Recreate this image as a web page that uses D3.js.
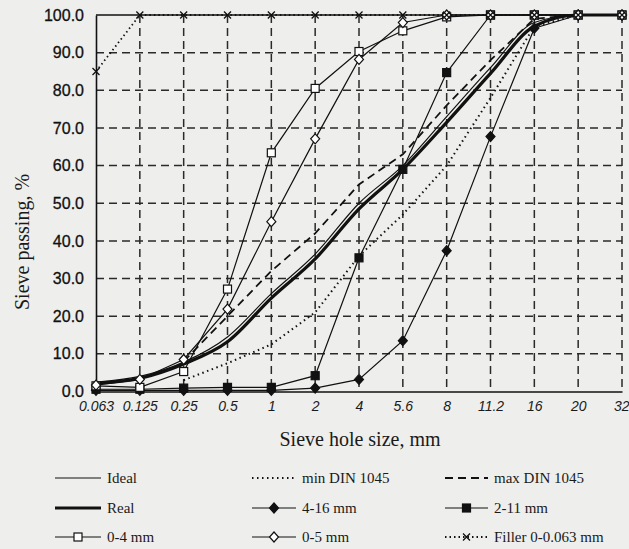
<!DOCTYPE html>
<meta charset="utf-8">
<head>
<style>
  body { margin: 0; background: #eeeeec; }
  svg { display: block; }
  .ytick text { font: 16px "Liberation Sans", Arial, sans-serif; fill: #111; stroke: #111; stroke-width: 0.3; }
  .xtick text { font: italic 14px "Liberation Sans", Arial, sans-serif; fill: #1a1a1a; }
  .title { font: 20px "Liberation Serif", "Times New Roman", serif; fill: #1a1a1a; }
  .legend text { font: 15px "Liberation Serif", "Times New Roman", serif; fill: #1a1a1a; }
  .grid line { stroke: #2a2a2a; stroke-width: 1.5; stroke-dasharray: 8,5; }
</style>
</head>
<body>
<script src="https://d3js.org/d3.v7.min.js"></script>
<script>

// sieve sizes (mm), evenly spaced on the chart
var sizes = ["0.063", "0.125", "0.25", "0.5", "1", "2", "4", "5.6", "8", "11.2", "16", "20", "32"];
var yTicks = [0, 10, 20, 30, 40, 50, 60, 70, 80, 90, 100];

// % passing per sieve
var ideal   = [2.5, 4.0, 7.8, 14.5, 26.0, 36.5, 50.0, 60.0, 73.0, 86.0, 98.0, 100, 100];
var real    = [2.2, 3.5, 7.3, 13.2, 24.8, 35.2, 48.5, 59.0, 71.5, 84.5, 97.0, 100, 100];
var minDin  = [null, null, 3.0, 7.5, 12.5, 21.0, 36.0, 47.0, 60.0, 78.0, 97.0, 100, 100];
var maxDin  = [null, null, 8.0, 20.0, 32.0, 42.0, 55.0, 63.0, 76.0, 88.0, 99.0, 100, 100];
var s4_16   = [0.3, 0.3, 0.3, 0.3, 0.3, 0.9, 3.2, 13.5, 37.4, 67.7, 96.5, 100, 100];
var s2_11   = [0.6, 0.6, 0.9, 1.1, 1.1, 4.2, 35.5, 59.0, 84.7, 100, 100, 100, 100];
var s0_4    = [1.5, 1.1, 5.3, 27.2, 63.4, 80.5, 90.3, 95.8, 99.5, 100, 100, 100, 100];
var s0_5    = [1.7, 3.2, 8.5, 21.9, 45.1, 67.1, 88.2, 98.0, 100, 100, 100, 100, 100];
var filler  = [85.0, 100, 100, 100, 100, 100, 100, 100, 100, 100, 100, 100, 100];

var series = [
    {name: "Ideal", values: ideal, width: 1.2, dash: null, marker: null, smooth: true},
    {name: "min DIN 1045", values: minDin, width: 2, dash: "1.5,3.5", marker: null},
    {name: "max DIN 1045", values: maxDin, width: 1.8, dash: "8,5", marker: null},
    {name: "Real", values: real, width: 3.2, dash: null, marker: null, smooth: true},
    {name: "4-16 mm", values: s4_16, width: 1.2, dash: null, marker: "fdiamond"},
    {name: "2-11 mm", values: s2_11, width: 1.2, dash: null, marker: "fsquare"},
    {name: "0-4 mm", values: s0_4, width: 1.2, dash: null, marker: "osquare"},
    {name: "0-5 mm", values: s0_5, width: 1.2, dash: null, marker: "odiamond"},
    {name: "Filler 0-0.063 mm", values: filler, width: 1.8, dash: "1.5,3", marker: "cross"}
];

var W = 629, H = 549;
var pLeft = 96, pRight = 622, pTop = 15, pBottom = 391.5;

var svg = d3.select("body").append("svg")
    .attr("width", W)
    .attr("height", H);

var x = d3.scalePoint().domain(sizes).range([pLeft, pRight]);
var y = d3.scaleLinear().domain([0, 100]).range([pBottom, pTop]);

// grid
var grid = svg.append("g").attr("class", "grid");
grid.selectAll(".h").data(yTicks.filter(function (d) { return d > 0 && d < 100; }))
    .enter().append("line")
    .attr("x1", pLeft).attr("x2", pRight)
    .attr("y1", function (d) { return y(d); })
    .attr("y2", function (d) { return y(d); });
grid.selectAll(".v").data(sizes.slice(1))
    .enter().append("line")
    .attr("x1", function (d) { return x(d); })
    .attr("x2", function (d) { return x(d); })
    .attr("y1", pTop).attr("y2", pBottom);

// axes
var yAxis = svg.append("g")
    .attr("class", "ytick")
    .attr("transform", "translate(" + pLeft + ",0)")
    .call(d3.axisLeft(y).tickValues(yTicks).tickFormat(d3.format(".1f")).tickSize(0).tickPadding(12));
yAxis.select(".domain").attr("stroke", "#111").attr("stroke-width", 1.6);

var xAxis = svg.append("g")
    .attr("class", "xtick")
    .attr("transform", "translate(0," + pBottom + ")")
    .call(d3.axisBottom(x).tickSize(0).tickPadding(10));
xAxis.select(".domain").attr("stroke", "#111").attr("stroke-width", 1.6);
xAxis.selectAll(".tick text").filter(function (d) { return d === "32"; })
    .attr("text-anchor", "end").attr("dx", "0.5em");

// top border
svg.append("line")
    .attr("x1", pLeft).attr("x2", pRight)
    .attr("y1", pTop).attr("y2", pTop)
    .attr("stroke", "#111").attr("stroke-width", 1.6);

// titles
svg.append("text").attr("class", "title")
    .attr("x", 360).attr("y", 446)
    .attr("text-anchor", "middle")
    .text("Sieve hole size, mm");
svg.append("text").attr("class", "title")
    .attr("transform", "translate(29,242) rotate(-90)")
    .attr("text-anchor", "middle")
    .text("Sieve passing, %");

function drawMarker(g, type, cx, cy) {
    if (type === "fdiamond" || type === "odiamond") {
        g.append("path")
            .attr("d", "M" + cx + "," + (cy - 5) + "L" + (cx + 4.5) + "," + cy + "L" + cx + "," + (cy + 5) + "L" + (cx - 4.5) + "," + cy + "Z")
            .attr("fill", type === "fdiamond" ? "#111" : "#fff")
            .attr("stroke", "#111").attr("stroke-width", 1.2);
    } else if (type === "fsquare" || type === "osquare") {
        g.append("rect")
            .attr("x", cx - 4).attr("y", cy - 4)
            .attr("width", 8).attr("height", 8)
            .attr("fill", type === "fsquare" ? "#111" : "#fff")
            .attr("stroke", "#111").attr("stroke-width", 1.2);
    } else if (type === "cross") {
        g.append("path")
            .attr("d", "M" + (cx - 3.5) + "," + (cy - 3.5) + "L" + (cx + 3.5) + "," + (cy + 3.5) +
                "M" + (cx + 3.5) + "," + (cy - 3.5) + "L" + (cx - 3.5) + "," + (cy + 3.5))
            .attr("stroke", "#111").attr("stroke-width", 1.3).attr("fill", "none");
    }
}

var line = d3.line()
    .defined(function (d) { return d != null; })
    .x(function (d, i) { return x(sizes[i]); })
    .y(function (d) { return y(d); });

var plot = svg.append("g");
series.forEach(function (s) {
    plot.append("path")
        .attr("d", line.curve(s.smooth ? d3.curveMonotoneX : d3.curveLinear)(s.values))
        .attr("fill", "none")
        .attr("stroke", "#111")
        .attr("stroke-width", s.width)
        .attr("stroke-dasharray", s.dash);
});
series.forEach(function (s) {
    if (!s.marker) return;
    s.values.forEach(function (v, i) {
        if (v == null) return;
        drawMarker(plot, s.marker, x(sizes[i]), y(v));
    });
});

// legend, 3 columns x 3 rows
var legendOrder = ["Ideal", "min DIN 1045", "max DIN 1045", "Real", "4-16 mm", "2-11 mm", "0-4 mm", "0-5 mm", "Filler 0-0.063 mm"];
var colX = [55, 252, 445];
var colLen = [46, 44, 43];
var rowY = [478, 508, 537];
var legend = svg.append("g").attr("class", "legend");
legendOrder.forEach(function (name, k) {
    var s = series.find(function (d) { return d.name === name; });
    var c = k % 3, r = Math.floor(k / 3);
    var x0 = colX[c], x1 = colX[c] + colLen[c], ly = rowY[r];
    legend.append("line")
        .attr("x1", x0).attr("x2", x1)
        .attr("y1", ly).attr("y2", ly)
        .attr("stroke", "#111")
        .attr("stroke-width", s.width)
        .attr("stroke-dasharray", s.dash);
    if (s.marker) drawMarker(legend, s.marker, (x0 + x1) / 2, ly);
    legend.append("text")
        .attr("x", x1 + 6)
        .attr("y", ly + 5)
        .text(name);
});

</script>
</body>
